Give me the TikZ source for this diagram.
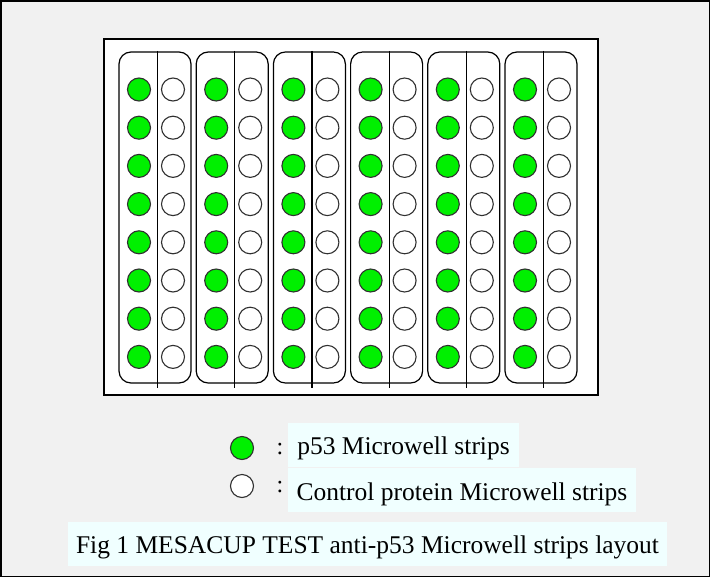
\documentclass[tikz,border=0pt]{standalone}
\usepackage{fontspec}
\setmainfont{Liberation Serif}
\usepackage{tikz}
\usetikzlibrary{positioning}

\definecolor{pagegrey}{HTML}{F1F1F1}
\definecolor{wellgreen}{HTML}{00F000}
\definecolor{wellrim}{HTML}{303030}
\definecolor{boxazure}{HTML}{F0FFFF}

\tikzset{
  greenwell/.style={circle, draw=wellrim, line width=1.1pt, fill=wellgreen, inner sep=0, outer sep=0, minimum size=23pt},
  whitewell/.style={circle, draw=wellrim, line width=1.1pt, fill=white, inner sep=0, outer sep=0, minimum size=23pt},
  labelbox/.style={fill=boxazure, inner sep=0, outer sep=0, text height=31pt, text depth=13pt, font=\fontsize{25.5}{30}\selectfont},
  colonmark/.style={anchor=base, inner sep=0, font=\fontsize{24}{28}\selectfont},
}

\begin{document}
\begin{tikzpicture}[x=1pt, y=-1pt]
      \useasboundingbox (0,0) rectangle (711,578);
      \draw[fill=pagegrey, line width=1.5pt] (1,1) rectangle (709.5,576.5);

      % plate
      \draw[fill=white, line width=1.2pt] (104,39) rectangle (598,395);

      % six strips, each with eight rows
      \foreach \s in {0,...,5} {
        \pgfmathsetmacro{\xs}{119+77.2*\s}
        \draw[rounded corners=12pt, line width=1.2pt] (\xs,52) rectangle (\xs+72,383);
        \coordinate (top\s) at (\xs+38.5,51);
        \coordinate (bot\s) at (\xs+38.5,388);
        \draw[line width=1.2pt] (top\s) -- (bot\s);
        \foreach \r in {0,...,7} {
          \pgfmathsetmacro{\yr}{89.5+38.2*\r}
          \node [greenwell] (g\s\r) at (\xs+20,\yr) {};
          \node [whitewell] (w\s\r) at (\xs+54,\yr) {};
        }
      }

      % legend
      \node [greenwell] (legG) at (242,448) {};
      \node [whitewell] (legW) at (242,486) {};
      \node [colonmark] (colG) at (280,454) {:};
      \node [colonmark] (colW) at (280,492) {:};

      \node [labelbox, minimum width=231pt, anchor=north] (textG) at (403.5,423) {p53 Microwell strips};
      \node [labelbox, minimum width=348pt, anchor=north, text height=32pt, text depth=12pt] (textW) at (462,468) {Control protein Microwell strips};
      \node [labelbox, minimum width=599pt, anchor=north] (caption) at (367.5,522) {Fig 1 MESACUP TEST anti-p53 Microwell strips layout};
    \end{tikzpicture}
\end{document}
